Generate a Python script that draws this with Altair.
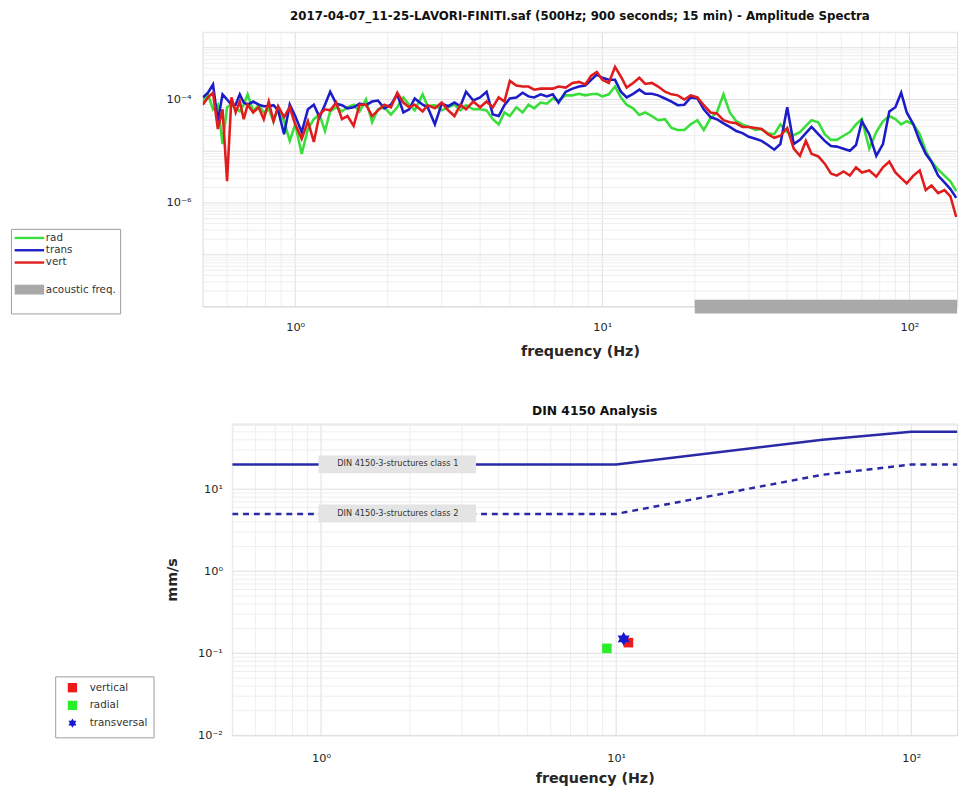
import altair as alt
import pandas as pd

FONT = "DejaVu Sans"
TXT = "#262626"

# ---------------- data: amplitude spectra ----------------
freq_hz = [0.50, 0.52, 0.54, 0.56, 0.58, 0.60, 0.62, 0.64, 0.66, 0.68, 0.70,
           0.73, 0.76, 0.79, 0.82, 0.85, 0.88, 0.92, 0.96,
           1.0, 1.05, 1.1, 1.15, 1.2, 1.25, 1.3, 1.36, 1.42, 1.48, 1.55, 1.62, 1.7, 1.78, 1.86, 1.95,
           2.05, 2.15, 2.25, 2.35, 2.45, 2.6, 2.7, 2.85,
           3.0, 3.15, 3.3, 3.45, 3.6, 3.8,
           4.0, 4.2, 4.4, 4.6, 4.8,
           5.0, 5.25, 5.5, 5.75,
           6.0, 6.3, 6.6, 6.9,
           7.2, 7.6,
           8.0, 8.4, 8.8, 9.2, 9.6,
           10, 10.5, 11, 11.5, 12, 12.6, 13.2, 13.8, 14.5, 15.2, 16, 16.8, 17.6, 18.5, 19.4,
           20.4, 21.4, 22.5, 23.6, 24.8, 26, 27.3, 28.6, 30, 31.5, 33, 34.6, 36.3, 38,
           40, 42, 44, 46, 48, 50.5, 53, 55.5, 58, 61, 64, 67, 70, 74, 78, 82, 86, 90, 94, 98,
           103, 108, 113, 118, 124, 130, 136, 142]

# log10 of the amplitude
rad_log10 = [-4.04, -3.90, -4.19, -4.10, -4.86, -4.15, -4.10, -4.17, -4.23, -4.10, -3.90,
             -4.23, -4.10, -4.25, -4.19, -4.42, -4.15, -4.42, -4.80,
             -4.48, -5.05, -4.57, -4.38, -4.29, -4.61, -4.23, -4.15, -4.23, -4.15, -4.10, -4.23, -4.00, -4.44, -4.19, -4.15,
             -4.29, -4.15, -3.96, -4.10, -4.21, -3.90, -4.13, -4.11,
             -4.21, -4.15, -4.10, -4.21, -4.11, -4.19,
             -4.19, -4.21, -4.38, -4.48, -4.25,
             -4.32, -4.15, -4.25, -4.10,
             -4.17, -4.06, -4.08, -3.98,
             -4.02, -3.92,
             -3.92, -3.89, -3.92, -3.90, -3.89,
             -3.94, -3.90, -3.75, -3.96, -4.10, -4.17, -4.30, -4.25, -4.32, -4.40, -4.38, -4.55, -4.59, -4.59, -4.48,
             -4.40, -4.59, -4.36, -4.25, -3.90, -4.25, -4.42, -4.48, -4.53, -4.59, -4.57, -4.65, -4.67, -4.48,
             -4.63, -4.69, -4.63, -4.51, -4.40, -4.44, -4.67, -4.78, -4.78, -4.70, -4.63, -4.48, -4.38, -4.95, -4.63, -4.42, -4.32, -4.38, -4.48, -4.42,
             -4.48, -4.67, -4.99, -5.20, -5.35, -5.47, -5.58, -5.77]

trans_log10 = [-3.96, -3.87, -3.71, -4.42, -3.90, -4.00, -4.10, -4.10, -3.90, -4.06, -4.10,
               -4.04, -4.10, -4.13, -4.13, -4.11, -4.21, -4.67, -4.10,
               -4.32, -4.63, -4.19, -4.10, -4.34, -4.10, -3.85, -4.08, -4.11, -4.17, -4.15, -4.08, -4.11, -4.04, -4.02, -4.17,
               -4.10, -3.90, -4.25, -4.19, -3.98, -4.10, -4.15, -4.48,
               -4.08, -4.13, -4.06, -4.13, -3.85, -4.02,
               -3.96, -3.85, -4.29, -4.32, -4.11,
               -3.98, -3.96, -3.87, -3.94,
               -3.96, -3.90, -3.94, -3.90,
               -4.06, -3.85,
               -3.79, -3.75, -3.73, -3.62, -3.52,
               -3.58, -3.62, -3.62, -3.85, -3.96, -3.89, -3.81, -3.89, -3.89, -3.92, -3.98, -4.04, -4.11, -4.10, -3.96,
               -3.98, -4.19, -4.34, -4.38, -4.46, -4.53, -4.61, -4.65, -4.72, -4.76, -4.80, -4.88, -4.97, -4.86,
               -4.15, -4.86, -4.78, -4.65, -4.53, -4.67, -4.80, -4.90, -4.91, -4.95, -4.99, -4.88, -4.42, -4.67, -5.09, -4.86, -4.23, -4.15, -3.87, -4.25,
               -4.48, -4.80, -5.05, -5.20, -5.47, -5.60, -5.73, -5.90]

vert_log10 = [-4.10, -3.96, -3.87, -4.57, -4.19, -5.58, -3.96, -4.25, -4.04, -4.38, -4.10,
              -4.25, -4.15, -4.38, -4.04, -4.42, -4.13, -4.34, -4.15,
              -4.48, -4.76, -4.42, -4.82, -4.29, -4.19, -4.21, -4.06, -4.38, -4.32, -4.51, -4.10, -4.10, -4.32, -4.21, -4.10,
              -4.15, -3.87, -4.06, -4.15, -4.10, -4.23, -4.11, -4.17,
              -4.06, -4.21, -4.32, -4.10, -4.19, -4.04,
              -4.15, -4.04, -4.15, -3.96, -4.04,
              -3.64, -3.73, -3.75, -3.75,
              -3.81, -3.79, -3.79, -3.79,
              -3.75, -3.77,
              -3.68, -3.66, -3.71, -3.54, -3.47,
              -3.62, -3.68, -3.37, -3.56, -3.77, -3.68, -3.58, -3.70, -3.68, -3.75, -3.85, -3.90, -3.92, -4.00, -3.92,
              -3.96, -4.11, -4.25, -4.27, -4.40, -4.44, -4.46, -4.53, -4.53, -4.55, -4.57, -4.67, -4.74, -4.70,
              -4.55, -4.95, -5.09, -4.80, -5.05, -5.10, -5.24, -5.43, -5.47, -5.39, -5.47, -5.31, -5.41, -5.37, -5.49, -5.31, -5.20, -5.41, -5.52, -5.62,
              -5.47, -5.37, -5.75, -5.66, -5.81, -5.75, -5.87, -6.27]

series_names = ["rad", "trans", "vert", "acoustic freq."]
series_colors = ["#3ade3a", "#1c1cc8", "#e01c1c", "#a9a9a9"]
acoustic_from_hz = [20]
acoustic_to_hz = [143]

# ---------------- data: DIN 4150 panel ----------------
din_freq_hz = [0.5, 10, 50, 100, 150]
din_class1 = [20, 20, 40, 50, 50]
din_class2 = [5, 5, 15, 20, 20]
din_labels = ["DIN 4150-3-structures class 1", "DIN 4150-3-structures class 2"]
din_label_level = [20, 5]

comp_names = ["vertical", "radial", "transversal"]
comp_freq_hz = [11.0, 9.3, 10.6]
comp_mm_s = [0.135, 0.115, 0.15]
comp_colors = ["#ee1a1a", "#2aee2a", "#1818d0"]

x_ticks = [1, 10, 100]
top_y_ticks = [1e-6, 1e-4]
bot_y_ticks = [0.01, 0.1, 1, 10]

X_DOMAIN = [0.5, 143]
TOP_Y_DOMAIN = [1e-8, 2e-3]
BOT_Y_DOMAIN = [0.01, 63]

for arr in (rad_log10, trans_log10, vert_log10):
    assert len(arr) == len(freq_hz), len(arr)

# ---------------- tables ----------------
rows = []
for name, vals in (("rad", rad_log10), ("trans", trans_log10), ("vert", vert_log10)):
    for f, e in zip(freq_hz, vals):
        rows.append({"series": name, "f": f, "amp": 10 ** e})
spec_df = pd.DataFrame(rows)

legend_df = pd.DataFrame({"series": series_names, "f": [1.0] * 4, "amp": [1e-5] * 4})
band_df = pd.DataFrame({"f0": acoustic_from_hz, "f1": acoustic_to_hz, "amp": [TOP_Y_DOMAIN[0]]})

din_df = pd.DataFrame({
    "f": din_freq_hz * 2,
    "v": din_class1 + din_class2,
    "cls": ["class 1"] * len(din_freq_hz) + ["class 2"] * len(din_freq_hz),
})
lab_df = pd.DataFrame({
    "text": din_labels,
    "v": din_label_level,
    "fc": [1.82, 1.82],
    "f0": [0.98, 0.98],
    "f1": [3.35, 3.35],
    "v0": [15.6, 3.95],
    "v1": [25.8, 6.5],
})
comp_df = pd.DataFrame({"component": comp_names, "f": comp_freq_hz, "v": comp_mm_s})

# grid positions (log decades and their 2..9 sub-divisions)
def log_grid(lo, hi):
    major, minor = [], []
    for d in range(-10, 4):
        for k in range(1, 10):
            v = round(k * 10 ** d, 12)
            if lo <= v <= hi:
                (major if k == 1 else minor).append(v)
    return major, minor

x_major, x_minor = log_grid(*X_DOMAIN)
ty_major, ty_minor = log_grid(*TOP_Y_DOMAIN)
by_major, by_minor = log_grid(*BOT_Y_DOMAIN)

XLAB = "datum.value < 5 ? '10⁰' : (datum.value < 50 ? '10¹' : '10²')"
TYLAB = "datum.value < 5e-6 ? '10⁻⁶' : '10⁻⁴'"
BYLAB = ("datum.value < 0.05 ? '10⁻²' : (datum.value < 0.5 ? '10⁻¹' : "
         "(datum.value < 5 ? '10⁰' : '10¹'))")

def x_axis(pad, tpad):
    return alt.Axis(values=x_ticks, labelExpr=XLAB, title="frequency (Hz)", grid=False, ticks=False,
                    domain=False, labelFont=FONT, labelFontSize=11.5, labelColor=TXT, labelPadding=pad,
                    labelFlush=False, titleFont=FONT, titleFontSize=14.5, titleFontWeight="bold",
                    titleColor=TXT, titlePadding=tpad)

top_xaxis = x_axis(15, 12)
bot_xaxis = x_axis(18, 7)
top_yaxis = alt.Axis(values=top_y_ticks, labelExpr=TYLAB, title=None, grid=False, ticks=False, domain=False,
                     labelFont=FONT, labelFontSize=11.5, labelColor=TXT, labelPadding=12)
bot_yaxis = alt.Axis(values=bot_y_ticks, labelExpr=BYLAB, title="mm/s", grid=False, ticks=False, domain=False,
                     labelFont=FONT, labelFontSize=11.5, labelColor=TXT, labelPadding=10,
                     titleFont=FONT, titleFontSize=14.5, titleFontWeight="bold", titleColor=TXT, titlePadding=18)

xscale = alt.Scale(type="log", domain=X_DOMAIN, nice=False)
tyscale = alt.Scale(type="log", domain=TOP_Y_DOMAIN, nice=False)
byscale = alt.Scale(type="log", domain=BOT_Y_DOMAIN, nice=False)

def TX(field):
    return alt.X(f"{field}:Q", scale=xscale, axis=top_xaxis)

def TY(field):
    return alt.Y(f"{field}:Q", scale=tyscale, axis=top_yaxis)

def BX(field):
    return alt.X(f"{field}:Q", scale=xscale, axis=bot_xaxis)

def BY(field):
    return alt.Y(f"{field}:Q", scale=byscale, axis=bot_yaxis)

MINOR_C = "#eeeeee"
MAJOR_C = "#dedede"

# ---------------- top panel ----------------
t_vminor = alt.Chart(pd.DataFrame({"g": x_minor})).mark_rule(color=MINOR_C, strokeWidth=1).encode(x=TX("g"))
t_vmajor = alt.Chart(pd.DataFrame({"g": x_major})).mark_rule(color=MAJOR_C, strokeWidth=1).encode(x=TX("g"))
t_hminor = alt.Chart(pd.DataFrame({"g": ty_minor})).mark_rule(color=MINOR_C, strokeWidth=1).encode(y=TY("g"))
t_hmajor = alt.Chart(pd.DataFrame({"g": ty_major})).mark_rule(color=MAJOR_C, strokeWidth=1).encode(y=TY("g"))

spec_lines = []
for name, col in zip(series_names[:3], series_colors[:3]):
    spec_lines.append(
        alt.Chart(spec_df).transform_filter(f"datum.series == '{name}'").mark_line(
            color=col, strokeWidth=2.6, clip=True).encode(x=TX("f"), y=TY("amp"))
    )

band = alt.Chart(band_df).mark_rule(color=series_colors[3], strokeWidth=14, clip=False).encode(
    x=TX("f0"), x2=alt.X2("f1:Q"), y=TY("amp"))

LINE_SYM = "M-11,0H49"
SYM_WIDTH_EXPR = ("(datum && (datum === 'acoustic freq.' || datum.value === 'acoustic freq.')) "
                  "? 10 : 2.4")
top_legend = alt.Legend(title=None, orient="none", legendX=-195, legendY=200, direction="vertical",
                        strokeColor="#9c9c9c", fillColor="#ffffff", padding=4, symbolSize=1,
                        symbolType=LINE_SYM, symbolStrokeWidth=alt.ExprRef(expr=SYM_WIDTH_EXPR),
                        labelFont=FONT, labelFontSize=10.5, labelColor="#333333",
                        labelOffset=21, rowPadding=1.5, symbolOpacity=1)
legend_layer = alt.Chart(legend_df).transform_filter("false").mark_point(
    filled=False, opacity=1, shape=LINE_SYM).encode(
    x=TX("f"), y=TY("amp"),
    stroke=alt.Stroke("series:N", scale=alt.Scale(domain=series_names, range=series_colors), legend=top_legend),
)

top = alt.layer(t_vminor, t_vmajor, t_hminor, t_hmajor, *spec_lines, band, legend_layer).properties(
    width=767, height=279,
    title=alt.TitleParams(
        "2017-04-07_11-25-LAVORI-FINITI.saf (500Hz; 900 seconds; 15 min) - Amplitude Spectra",
        font=FONT, fontSize=12, fontWeight="bold", color="#111111", offset=9, anchor="middle"),
)

# ---------------- bottom panel ----------------
b_vminor = alt.Chart(pd.DataFrame({"g": x_minor})).mark_rule(color=MINOR_C, strokeWidth=1).encode(x=BX("g"))
b_vmajor = alt.Chart(pd.DataFrame({"g": x_major})).mark_rule(color=MAJOR_C, strokeWidth=1).encode(x=BX("g"))
b_hminor = alt.Chart(pd.DataFrame({"g": by_minor})).mark_rule(color=MINOR_C, strokeWidth=1).encode(y=BY("g"))
b_hmajor = alt.Chart(pd.DataFrame({"g": by_major})).mark_rule(color=MAJOR_C, strokeWidth=1).encode(y=BY("g"))

DIN_C = "#2a2aa6"
din1 = alt.Chart(din_df).transform_filter("datum.cls == 'class 1'").mark_line(
    color=DIN_C, strokeWidth=2.5, clip=True).encode(x=BX("f"), y=BY("v"))
din2 = alt.Chart(din_df).transform_filter("datum.cls == 'class 2'").mark_line(
    color=DIN_C, strokeWidth=2.5, strokeDash=[6, 5], clip=True).encode(x=BX("f"), y=BY("v"))
lab_box = alt.Chart(lab_df).mark_rect(color="#e4e4e4").encode(
    x=BX("f0"), x2=alt.X2("f1:Q"), y=BY("v0"), y2=alt.Y2("v1:Q"))
lab_txt = alt.Chart(lab_df).mark_text(font=FONT, fontSize=8.3, color="#333333", align="center",
                                      baseline="middle").encode(x=BX("fc"), y=BY("v"), text="text:N")

HEXAGRAM = ("M0,-1L0.29,-0.5L0.87,-0.5L0.58,0L0.87,0.5L0.29,0.5L0,1L-0.29,0.5L-0.87,0.5"
            "L-0.58,0L-0.87,-0.5L-0.29,-0.5Z")
# legend placed relative to the top panel's origin (shared legends live at the root)
bot_legend = alt.Legend(title=None, orient="none", legendX=-150, legendY=655, direction="vertical",
                        strokeColor="#9c9c9c", fillColor="#ffffff", padding=6, symbolSize=90,
                        labelFont=FONT, labelFontSize=10.5, labelColor="#333333", labelOffset=12,
                        rowPadding=1, symbolOffset=6, symbolOpacity=1)
points = alt.Chart(comp_df).mark_point(
    filled=True, opacity=1,
    size=alt.ExprRef(expr="(datum.component || datum.value) === 'transversal' ? 200 : 95")).encode(
    x=BX("f"), y=BY("v"),
    color=alt.Color("component:N", scale=alt.Scale(domain=comp_names, range=comp_colors), legend=bot_legend),
    shape=alt.Shape("component:N", scale=alt.Scale(domain=comp_names, range=["square", "square", HEXAGRAM]),
                    legend=bot_legend),
)

bottom = alt.layer(b_vminor, b_vmajor, b_hminor, b_hmajor, din1, din2, lab_box, lab_txt, points).properties(
    width=737, height=317,
    title=alt.TitleParams("DIN 4150 Analysis", font=FONT, fontSize=12.5, fontWeight="bold",
                          color="#111111", offset=6, anchor="middle"),
)

spacer = alt.Chart(pd.DataFrame({"s": [0]})).mark_text(text="", opacity=0).encode(
    x=alt.value(0), y=alt.value(0)
).properties(width=20, height=317, view=alt.ViewBackground(strokeWidth=0))

bottom_row = alt.hconcat(spacer, bottom, spacing=10, bounds="flush")

chart = alt.vconcat(top, bottom_row, spacing=119, bounds="flush").properties(
    padding={"left": 2, "top": -5, "right": 0, "bottom": 0}
).configure_view(stroke="#8a8a8a", strokeWidth=1).configure(font=FONT)

chart.save("out.html", embed_options={"renderer": "svg", "actions": False})
